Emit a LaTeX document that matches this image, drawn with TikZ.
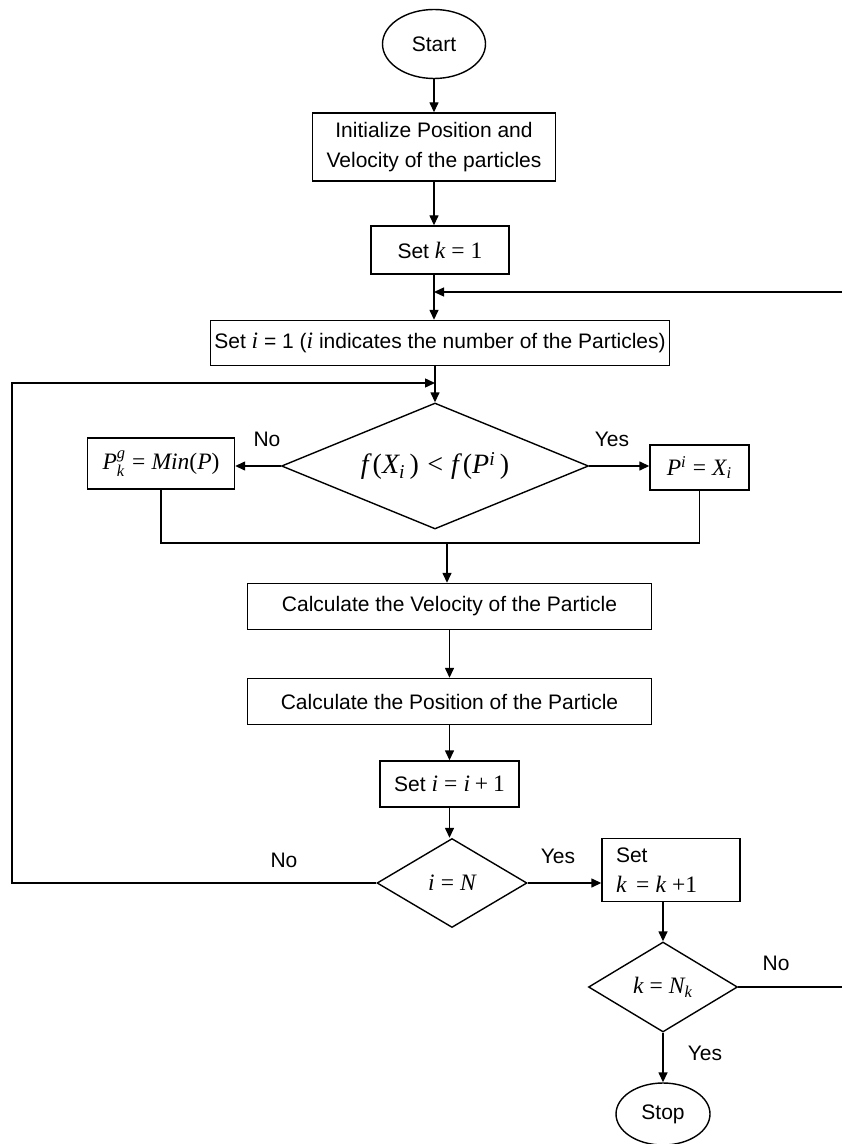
\documentclass[tikz,border=0pt]{standalone}
\usepackage[no-math]{fontspec}
\setmainfont{Liberation Sans}
\newfontfamily\tmsfam{Liberation Serif}[NFSSFamily=tms,Scale=1.12]
\DeclareSymbolFont{letters}{TU}{tms}{m}{it}
\DeclareSymbolFont{operators}{TU}{tms}{m}{n}
\usetikzlibrary{shapes.geometric,arrows.meta}

\begin{document}
\begin{tikzpicture}
  [x=0.5pt,y=-0.5pt,line width=0.7pt,>={Triangle[length=5pt,width=4.5pt]},
   every node/.style={font=\fontsize{10.5}{15}\selectfont},
   box/.style={draw,rectangle,inner sep=0pt,align=center},
   term/.style={draw,ellipse,inner sep=0pt},
   test/.style={draw,diamond,inner sep=0pt,aspect=2}]
  \useasboundingbox (0,0) rectangle (842,1144);

  % main column
  \node[term,minimum width=51.5pt,minimum height=34.5pt] (start) at (434,44) {Start};
  \node[box,minimum width=121.5pt,minimum height=34pt] (init) at (434,147)
    {Initialize Position and\\Velocity of the particles};
  \node[box,minimum width=69pt,minimum height=24pt] (setk) at (440,250) {Set $k=1$};
  \node[box,minimum width=229.5pt,minimum height=22.5pt] (seti) at (440,343)
    {Set $i$ = 1 ($i$ indicates the number of the Particles)};
  \node[test,minimum width=153.5pt,minimum height=63pt] (cmp) at (435,466)
    {\fontsize{12.5}{15}\selectfont $f\,(X_i\,) < f\,(P^i\,)$};
  \node[box,minimum width=73.5pt,minimum height=25.5pt] (pg) at (161,463.5) {$P_k^g = Min(P)$};
  \node[box,minimum width=49.5pt,minimum height=22.5pt] (pi) at (699.5,467.5) {$P^i = X_i$};
  \node[box,minimum width=202pt,minimum height=23pt] (vel) at (449.5,606.5)
    {Calculate the Velocity of the Particle};
  \node[box,minimum width=202pt,minimum height=23pt] (pos) at (449.5,701.5)
    {Calculate the Position of the Particle};
  \node[box,minimum width=69.5pt,minimum height=23pt] (seti1) at (449.5,784) {Set $i = i + 1$};
  \node[test,minimum width=75pt,minimum height=44.5pt] (ieqn) at (452,883) {$i = N$};
  \node[box,minimum width=69pt,minimum height=31.5pt,text width=55pt,align=left] (setk1) at (671,870)
    {Set\\$k\, = k\; {+}1$};
  \node[test,minimum width=74.5pt,minimum height=45pt] (keqn) at (663,987) {$k = N_k$};
  \node[term,minimum width=47pt,minimum height=31pt] (stop) at (663,1114) {Stop};

  % branch labels
  \node (no1) at (267,439) {No};
  \node (yes1) at (612,439) {Yes};
  \node (no2) at (284,860) {No};
  \node (yes2) at (558,856) {Yes};
  \node (no3) at (776,963) {No};
  \node (yes3) at (705,1053) {Yes};

  \coordinate (re1) at (842,292);
  \coordinate (re2) at (842,987);
  \coordinate (lp) at (12,383);
  \coordinate (mg) at (447,543);

  \foreach \from/\to in {start/init,vel/pos,pos/seti1,keqn/stop}
    \draw[->] (\from) -- (\to);
  \draw[->] (init.south -| start) -- (setk.north -| start);
  \draw[->] (setk.south -| start) -- (seti.north -| start);
  \draw[->] (re1) -- (start |- re1);
  \draw[->] (seti.south -| cmp) -- (cmp.north);
  \draw[->] (cmp.west) -- (cmp.west -| pg.east);
  \draw[->] (cmp.east) -- (cmp.east -| pi.west);
  \draw (pg.south) -- (pg.south |- mg) -- (pi.south |- mg) -- (pi.south);
  \draw[->] (mg) -- (mg |- vel.north);
  \draw[->] (seti1.south) -- (seti1.south |- ieqn.north);
  \draw[->] (ieqn.west) -- (ieqn.west -| lp) -- (lp) -- (cmp.north |- lp);
  \draw[->] (ieqn.east) -- (ieqn.east -| setk1.west);
  \draw[->] (setk1.south -| keqn) -- (keqn.north);
  \draw (keqn.east) -- (re2);
\end{tikzpicture}
\end{document}
